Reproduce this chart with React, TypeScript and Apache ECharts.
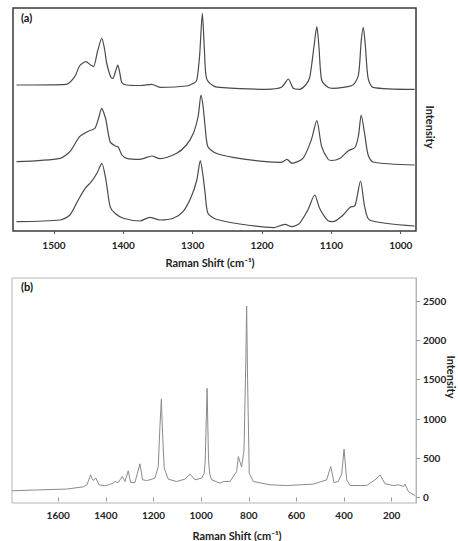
import React, { useEffect, useRef } from "react";
import * as echarts from "echarts";

// Panel (a): three offset Raman spectra [shift cm-1, intensity (a.u., offset)]
const traceTop: [number, number][] = [
  [1554, 146], [1482, 146.7], [1470, 154.3], [1463, 165], [1454, 169.3], [1447, 166], [1443, 164.3],
  [1437, 180], [1431, 192.7], [1427, 182], [1424, 168], [1418, 153.7], [1415, 152.7], [1411, 160],
  [1408, 166], [1405, 158], [1402, 148.3], [1395, 146], [1375, 145.5], [1359, 146.7], [1347, 143.7],
  [1309, 145], [1298, 148], [1294, 151], [1290, 175], [1286, 217.7], [1283, 180], [1280, 152.7],
  [1270, 145], [1261, 143.7], [1194, 141.7], [1172, 143.7], [1162, 152], [1155, 142.7], [1146, 141.7],
  [1136, 147], [1131, 154.3], [1125, 185], [1121, 204.3], [1118, 185], [1114, 151], [1105, 143.7],
  [1098, 142.7], [1069, 146], [1061, 156], [1057, 190], [1054, 203.7], [1051, 185], [1047, 152.7],
  [1040, 143.7], [980, 141.7],
];
const traceMiddle: [number, number][] = [
  [1554, 69.3], [1491, 72.7], [1477, 79.3], [1463, 94.3], [1452, 99.3], [1441, 102.7], [1436, 112],
  [1431, 122.7], [1428, 118], [1425, 111], [1419, 89.3], [1412, 85.3], [1407, 83.7], [1402, 76],
  [1395, 72.7], [1376, 71.7], [1359, 75], [1347, 72.3], [1323, 77.7], [1309, 86], [1299, 97.7],
  [1292, 115], [1288, 136], [1285, 125], [1282, 104.3], [1278, 84.3], [1266, 77.7], [1242, 73.7],
  [1194, 69.3], [1172, 68.7], [1164, 71.7], [1157, 67.7], [1141, 72.7], [1129, 91], [1121, 110.3],
  [1114, 84.3], [1105, 72], [1100, 70.5], [1088, 72.5], [1076, 80], [1066, 83.5], [1061, 95], [1057, 116],
  [1052, 97], [1047, 76], [1040, 69], [980, 66],
];
const traceBottom: [number, number][] = [
  [1554, 9.3], [1491, 11], [1477, 16], [1465, 31], [1455, 42.7], [1446, 49.3], [1438, 57.7],
  [1431, 67.7], [1425, 51], [1419, 24.3], [1412, 17.7], [1400, 12.7], [1376, 10], [1362, 13.7],
  [1347, 11], [1328, 12.7], [1314, 19.3], [1302, 34.3], [1294, 51], [1289, 70.3], [1285, 55],
  [1282, 37.7], [1278, 17.7], [1266, 11.7], [1232, 7], [1184, 3.3], [1167, 6.7], [1157, 4.3],
  [1146, 7.7], [1134, 21], [1124, 36], [1117, 22.7], [1105, 10.3], [1098, 9.3], [1083, 16],
  [1073, 23.7], [1066, 25.3], [1058, 50], [1052, 24.3], [1045, 11], [980, 5],
];

// Panel (b): single Raman spectrum [shift cm-1, intensity]
const traceB: [number, number][] = [
  [1794, 85], [1700, 95], [1565, 107], [1495, 135], [1480, 160], [1474, 203], [1464, 288], [1458, 240],
  [1453, 216], [1442, 246], [1435, 200], [1428, 161], [1404, 148], [1385, 165], [1369, 183], [1362, 203],
  [1348, 190], [1331, 267], [1320, 203], [1306, 339], [1296, 190], [1278, 190], [1257, 428], [1246, 225],
  [1229, 216], [1215, 225], [1194, 246], [1180, 393], [1173, 901], [1167, 1249], [1162, 817], [1155, 373],
  [1138, 233], [1103, 203], [1068, 233], [1047, 297], [1026, 225], [998, 246], [987, 309], [983, 450],
  [975, 1388], [969, 480], [964, 300], [956, 225], [921, 183], [907, 203], [879, 203], [851, 330],
  [844, 520], [830, 386], [820, 600], [812, 1800], [809, 2433], [805, 1500], [798, 309], [781, 203],
  [711, 161], [641, 152], [529, 170], [473, 225], [456, 393], [442, 190], [424, 203], [410, 300],
  [400, 614], [389, 225], [375, 152], [305, 152], [266, 233], [249, 288], [228, 174], [193, 152],
  [172, 161], [150, 140], [144, 170], [130, 76], [102, 25],
];

const xTicksA = [1500, 1400, 1300, 1200, 1100, 1000];
const xTicksB = [1600, 1400, 1200, 1000, 800, 600, 400, 200];
const yTicksB = [0, 500, 1000, 1500, 2000, 2500];

const FONT = "Lato, 'Open Sans', sans-serif";

export default function App() {
  const ref = useRef<HTMLDivElement>(null);
  useEffect(() => {
    if (!ref.current) return;
    const chart = echarts.init(ref.current, undefined, { renderer: "svg" });
    const labelStyle = {
      fontFamily: FONT, fontWeight: "bold" as const, fontSize: 10, color: "#222",
      formatter: (v: number) => String(v),
    };
    chart.setOption({
      animation: false,
      backgroundColor: "#fff",
      grid: [
        { left: 13, top: 8, width: 403, height: 223, show: true, borderColor: "#3a3a3a", borderWidth: 1.5, backgroundColor: "transparent" },
        { left: 12, top: 278, width: 404, height: 225, show: true, borderColor: "#b5b5b5", borderWidth: 1, backgroundColor: "transparent" },
      ],
      xAxis: [
        {
          gridIndex: 0, type: "value", min: 978, max: 1559, inverse: true,
          axisLine: { show: false },
          axisTick: { show: true, customValues: xTicksA, length: 3, lineStyle: { color: "#555" } },
          axisLabel: { ...labelStyle, customValues: xTicksA, margin: 9 },
          splitLine: { show: false },
        },
        {
          gridIndex: 1, type: "value", min: 98, max: 1794, inverse: true,
          axisLine: { show: false },
          axisTick: { show: true, customValues: xTicksB, length: 4, lineStyle: { color: "#999" } },
          axisLabel: { ...labelStyle, customValues: xTicksB, margin: 7 },
          splitLine: { show: false },
        },
      ],
      yAxis: [
        { gridIndex: 0, type: "value", min: 0, max: 223, show: false },
        {
          gridIndex: 1, type: "value", position: "right", min: -70, max: 2790,
          axisLine: { show: true, lineStyle: { color: "#b5b5b5" } },
          axisTick: { show: true, customValues: yTicksB, length: 4, lineStyle: { color: "#999" } },
          axisLabel: { ...labelStyle, customValues: yTicksB, margin: 7, align: "left" },
          splitLine: { show: false },
        },
      ],
      series: [
        { type: "line", xAxisIndex: 0, yAxisIndex: 0, data: traceTop, symbol: "none", smooth: 0.25, lineStyle: { color: "#4a4a4a", width: 1.2 } },
        { type: "line", xAxisIndex: 0, yAxisIndex: 0, data: traceMiddle, symbol: "none", smooth: 0.25, lineStyle: { color: "#4a4a4a", width: 1.2 } },
        { type: "line", xAxisIndex: 0, yAxisIndex: 0, data: traceBottom, symbol: "none", smooth: 0.25, lineStyle: { color: "#4a4a4a", width: 1.2 } },
        { type: "line", xAxisIndex: 1, yAxisIndex: 1, data: traceB, symbol: "none", smooth: false, lineStyle: { color: "#8a8a8a", width: 1 } },
      ],
      graphic: [
        { type: "text", x: 21, y: 17, style: { text: "(a)", font: `bold 11px ${FONT}`, fill: "#111", textVerticalAlign: "middle" } },
        { type: "text", x: 430, y: 127, rotation: -Math.PI / 2, style: { text: "Intensity", font: `bold 11px ${FONT}`, fill: "#222", textAlign: "center", textVerticalAlign: "middle" } },
        { type: "text", x: 210, y: 262, style: { text: "Raman Shift (cm⁻¹)", font: `bold 11px ${FONT}`, fill: "#222", textAlign: "center", textVerticalAlign: "middle" } },
        { type: "text", x: 21, y: 286, style: { text: "(b)", font: `bold 11px ${FONT}`, fill: "#111", textVerticalAlign: "middle" } },
        { type: "text", x: 451, y: 377, rotation: -Math.PI / 2, style: { text: "Intensity", font: `bold 11px ${FONT}`, fill: "#222", textAlign: "center", textVerticalAlign: "middle" } },
        { type: "text", x: 237, y: 535, style: { text: "Raman Shift (cm⁻¹)", font: `bold 11px ${FONT}`, fill: "#222", textAlign: "center", textVerticalAlign: "middle" } },
      ],
    });
    return () => chart.dispose();
  }, []);
  return <div ref={ref} style={{ position: "fixed", left: 0, top: 0, width: 458, height: 541 }} />;
}
